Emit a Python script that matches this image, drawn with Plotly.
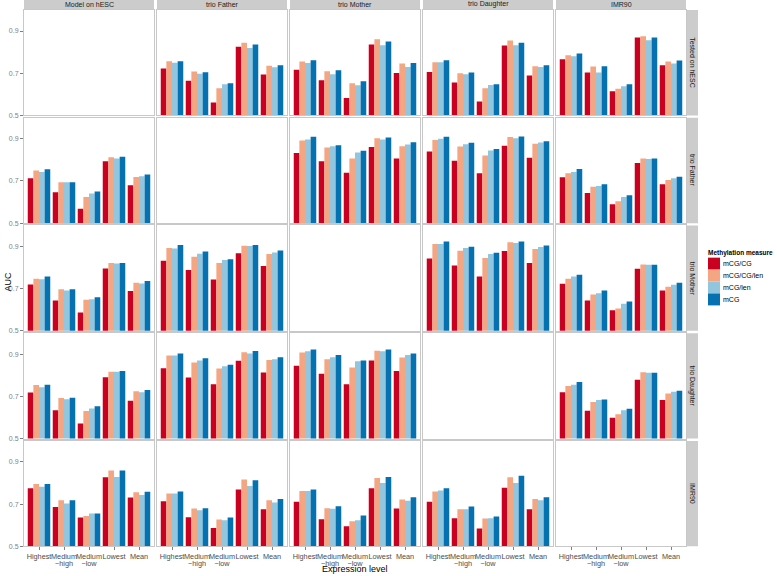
import plotly.graph_objects as go

# ---------------- data ----------------
categories = ["Highest", "Medium\u2212high", "Medium\u2212low", "Lowest", "Mean"]
tick_line1 = ["Highest", "Medium", "Medium", "Lowest", "Mean"]
tick_line2 = ["", "\u2212high", "\u2212low", "", ""]
models = ["Model on hESC", "trio Father", "trio Mother", "trio Daughter", "IMR90"]
tests = ["Tested on hESC", "trio Father", "trio Mother", "trio Daughter", "IMR90"]
measures = ["mCG/CG", "mCG/CG/len", "mCG/len", "mCG"]
colors = ["#CA0020", "#F4A582", "#92C5DE", "#0571B0"]

# Each list: values for the non-diagonal model columns (in model order), 5 expression levels each
hesc_mCG_CG = [[0.722, 0.664, 0.561, 0.826, 0.694], [0.717, 0.667, 0.583, 0.836, 0.701],
               [0.706, 0.656, 0.566, 0.831, 0.689], [0.766, 0.703, 0.615, 0.869, 0.738]]
hesc_mCG_CG_len = [[0.757, 0.708, 0.629, 0.844, 0.735], [0.755, 0.709, 0.653, 0.861, 0.746],
                   [0.752, 0.700, 0.629, 0.855, 0.733], [0.785, 0.732, 0.626, 0.875, 0.755]]
hesc_mCG_len = [[0.750, 0.697, 0.648, 0.819, 0.728], [0.749, 0.695, 0.643, 0.833, 0.730],
                [0.752, 0.695, 0.644, 0.833, 0.730], [0.781, 0.703, 0.638, 0.856, 0.746]]
hesc_mCG = [[0.757, 0.705, 0.653, 0.836, 0.738], [0.762, 0.714, 0.662, 0.850, 0.749],
            [0.762, 0.703, 0.648, 0.845, 0.738], [0.793, 0.733, 0.648, 0.869, 0.760]]

father_mCG_CG = [[0.713, 0.646, 0.568, 0.793, 0.680], [0.832, 0.793, 0.739, 0.861, 0.806],
                 [0.840, 0.796, 0.737, 0.867, 0.810], [0.717, 0.643, 0.590, 0.785, 0.684]]
father_mCG_CG_len = [[0.749, 0.694, 0.624, 0.812, 0.719], [0.892, 0.859, 0.807, 0.902, 0.865],
                     [0.894, 0.863, 0.821, 0.908, 0.876], [0.736, 0.673, 0.604, 0.807, 0.705]]
father_mCG_len = [[0.743, 0.694, 0.640, 0.807, 0.722], [0.897, 0.864, 0.835, 0.897, 0.873],
                  [0.900, 0.874, 0.844, 0.902, 0.882], [0.743, 0.676, 0.624, 0.804, 0.713]]
father_mCG = [[0.755, 0.694, 0.650, 0.815, 0.730], [0.909, 0.869, 0.843, 0.906, 0.883],
              [0.909, 0.881, 0.852, 0.911, 0.888], [0.757, 0.684, 0.632, 0.807, 0.720]]

mother_mCG_CG = [[0.720, 0.644, 0.587, 0.796, 0.689], [0.833, 0.789, 0.744, 0.868, 0.808],
                 [0.843, 0.810, 0.758, 0.879, 0.822], [0.724, 0.644, 0.598, 0.794, 0.691]]
mother_mCG_CG_len = [[0.747, 0.697, 0.648, 0.822, 0.728], [0.893, 0.852, 0.822, 0.904, 0.864],
                     [0.912, 0.880, 0.846, 0.920, 0.888], [0.747, 0.673, 0.606, 0.815, 0.709]]
mother_mCG_len = [[0.745, 0.691, 0.650, 0.819, 0.725], [0.891, 0.866, 0.836, 0.902, 0.872],
                  [0.912, 0.893, 0.865, 0.917, 0.898], [0.758, 0.678, 0.629, 0.813, 0.719]]
mother_mCG = [[0.758, 0.697, 0.659, 0.822, 0.736], [0.907, 0.876, 0.840, 0.907, 0.881],
              [0.924, 0.899, 0.871, 0.924, 0.905], [0.766, 0.691, 0.639, 0.813, 0.728]]

daughter_mCG_CG = [[0.719, 0.635, 0.572, 0.791, 0.680], [0.834, 0.790, 0.758, 0.869, 0.813],
                   [0.845, 0.807, 0.758, 0.870, 0.821], [0.720, 0.632, 0.599, 0.779, 0.683]]
daughter_mCG_CG_len = [[0.754, 0.692, 0.631, 0.817, 0.725], [0.894, 0.861, 0.832, 0.909, 0.873],
                       [0.908, 0.876, 0.837, 0.917, 0.884], [0.749, 0.673, 0.615, 0.815, 0.714]]
daughter_mCG_len = [[0.743, 0.687, 0.643, 0.817, 0.720], [0.894, 0.870, 0.843, 0.903, 0.876],
                    [0.914, 0.886, 0.867, 0.914, 0.897], [0.755, 0.683, 0.635, 0.812, 0.722]]
daughter_mCG = [[0.755, 0.694, 0.653, 0.820, 0.731], [0.903, 0.881, 0.850, 0.916, 0.886],
                [0.922, 0.897, 0.870, 0.922, 0.903], [0.768, 0.686, 0.642, 0.812, 0.727]]

imr90_mCG_CG = [[0.775, 0.686, 0.637, 0.827, 0.732], [0.714, 0.638, 0.587, 0.770, 0.676],
                [0.711, 0.629, 0.595, 0.776, 0.679], [0.711, 0.633, 0.584, 0.778, 0.676]]
imr90_mCG_CG_len = [[0.795, 0.719, 0.644, 0.860, 0.756], [0.751, 0.679, 0.627, 0.817, 0.719],
                    [0.762, 0.681, 0.619, 0.824, 0.722], [0.760, 0.676, 0.632, 0.827, 0.724]]
imr90_mCG_len = [[0.783, 0.703, 0.656, 0.829, 0.743], [0.751, 0.671, 0.624, 0.786, 0.708],
                 [0.762, 0.678, 0.624, 0.800, 0.716], [0.765, 0.676, 0.633, 0.800, 0.719]]
imr90_mCG = [[0.795, 0.719, 0.656, 0.860, 0.759], [0.760, 0.681, 0.637, 0.813, 0.724],
             [0.770, 0.690, 0.646, 0.829, 0.733], [0.776, 0.689, 0.641, 0.835, 0.733]]

rows_data = [
    [hesc_mCG_CG, hesc_mCG_CG_len, hesc_mCG_len, hesc_mCG],
    [father_mCG_CG, father_mCG_CG_len, father_mCG_len, father_mCG],
    [mother_mCG_CG, mother_mCG_CG_len, mother_mCG_len, mother_mCG],
    [daughter_mCG_CG, daughter_mCG_CG_len, daughter_mCG_len, daughter_mCG],
    [imr90_mCG_CG, imr90_mCG_CG_len, imr90_mCG_len, imr90_mCG],
]

# ---------------- layout geometry ----------------
W, H = 777, 576
col_left, col_w, col_step = 24, 130, 133
row_top, row_h, row_step = 10, 106, 108.3
strip_h = 10
strip_w = 11

def px_x(v):
    return v / W

def px_y(v):
    return 1 - v / H

fig = go.Figure()
layout = {}
shapes = []
annotations = []
border = "#C8C8C8"
tickgrey = "#7F7F7F"
font_family = "Liberation Sans, Arial, sans-serif"
xtick_font = dict(size=7.3, color="#4D4D4D", family=font_family)

for r in range(5):
    for c in range(5):
        idx = r * 5 + c + 1
        xa = "x" if idx == 1 else f"x{idx}"
        ya = "y" if idx == 1 else f"y{idx}"
        x0 = col_left + c * col_step
        y0 = row_top + r * row_step
        xdom = [px_x(x0), px_x(x0 + col_w)]
        ydom = [px_y(y0 + row_h), px_y(y0)]
        xkey = "xaxis" if idx == 1 else f"xaxis{idx}"
        ykey = "yaxis" if idx == 1 else f"yaxis{idx}"
        bottom = (r == 4)
        left = (c == 0)
        layout[xkey] = dict(
            domain=xdom, anchor=ya, type="category", range=[-0.6, 4.6],
            showline=True, mirror=True, linecolor=border, linewidth=1,
            showgrid=False, zeroline=False,
            tickmode="array", tickvals=categories, ticktext=tick_line1,
            showticklabels=bottom, ticks="outside" if bottom else "",
            ticklen=3, tickcolor=tickgrey, tickangle=0,
            tickfont=xtick_font,
            categoryorder="array", categoryarray=categories,
        )
        layout[ykey] = dict(
            domain=ydom, anchor=xa, range=[0.5, 1.0],
            showline=True, mirror=True, linecolor=border, linewidth=1,
            showgrid=False, zeroline=False,
            tickvals=[0.5, 0.7, 0.9], ticktext=["0.5", "0.7", "0.9"],
            showticklabels=left, ticks="outside" if left else "",
            ticklen=3, tickcolor=tickgrey,
            tickfont=dict(size=7, color=tickgrey, family=font_family),
        )
        if r != c:
            mi = c if c < r else c - 1
            for k, meas in enumerate(measures):
                fig.add_trace(go.Bar(
                    x=categories, y=rows_data[r][k][mi], xaxis=xa, yaxis=ya,
                    name=meas, marker=dict(color=colors[k], line=dict(width=0)),
                    showlegend=False,
                ))
        else:
            fig.add_trace(go.Bar(x=categories, y=[None] * 5, xaxis=xa, yaxis=ya,
                                 showlegend=False, hoverinfo="skip"))

# second line of the bottom-row tick labels (overlay axes)
for c in range(5):
    base = 20 + c + 1
    oidx = 25 + c + 1
    x0 = col_left + c * col_step
    layout[f"xaxis{oidx}"] = dict(
        domain=[px_x(x0), px_x(x0 + col_w)], anchor=f"y{base}", overlaying=f"x{base}",
        type="category", range=[-0.6, 4.6], side="bottom",
        categoryorder="array", categoryarray=categories,
        tickmode="array", tickvals=categories, ticktext=tick_line2,
        showline=False, showgrid=False, zeroline=False,
        ticks="outside", ticklen=10, tickcolor="rgba(0,0,0,0)", tickangle=0,
        tickfont=xtick_font,
    )
    fig.add_trace(go.Bar(x=categories, y=[None] * 5, xaxis=f"x{oidx}", yaxis=f"y{base}",
                         showlegend=False, hoverinfo="skip"))

# column strips
for c in range(5):
    x0 = col_left + c * col_step
    shapes.append(dict(type="rect", xref="paper", yref="paper",
                       x0=px_x(x0), x1=px_x(x0 + col_w),
                       y0=px_y(row_top - 0.5), y1=px_y(row_top - 0.5 - strip_h),
                       fillcolor="#CCCCCC", line=dict(width=0), layer="below"))
    annotations.append(dict(text=models[c], xref="paper", yref="paper",
                            x=px_x(x0 + col_w / 2), y=px_y(row_top - 0.5 - strip_h / 2),
                            showarrow=False, xanchor="center", yanchor="middle",
                            font=dict(size=7, color="#1A1A1A", family=font_family)))
# row strips
sx0 = col_left + 4 * col_step + col_w + 1
for r in range(5):
    y0 = row_top + r * row_step
    shapes.append(dict(type="rect", xref="paper", yref="paper",
                       x0=px_x(sx0), x1=px_x(sx0 + strip_w),
                       y0=px_y(y0), y1=px_y(y0 + row_h),
                       fillcolor="#CCCCCC", line=dict(width=0), layer="below"))
    annotations.append(dict(text=tests[r], xref="paper", yref="paper",
                            x=px_x(sx0 + strip_w / 2), y=px_y(y0 + row_h / 2),
                            showarrow=False, xanchor="center", yanchor="middle",
                            textangle=90,
                            font=dict(size=7, color="#1A1A1A", family=font_family)))

# axis titles
annotations.append(dict(text="AUC", xref="paper", yref="paper",
                        x=px_x(8), y=px_y(283), showarrow=False, textangle=-90,
                        xanchor="center", yanchor="middle",
                        font=dict(size=9, color="#000000", family=font_family)))
annotations.append(dict(text="Expression level", xref="paper", yref="paper",
                        x=px_x(355), y=px_y(571.5), showarrow=False,
                        xanchor="center", yanchor="middle",
                        font=dict(size=9, color="#000000", family=font_family)))

# legend (compact, ggplot-like)
leg_x, leg_title_y, key_top, key_size = 708, 254, 259, 12
annotations.append(dict(text="<b>Methylation measure</b>", xref="paper", yref="paper",
                        x=px_x(leg_x - 2), y=px_y(leg_title_y), showarrow=False,
                        xanchor="left", yanchor="middle",
                        font=dict(size=6.5, color="#000000", family=font_family)))
for k, meas in enumerate(measures):
    ky = key_top + k * key_size
    shapes.append(dict(type="rect", xref="paper", yref="paper",
                       x0=px_x(leg_x), x1=px_x(leg_x + key_size),
                       y0=px_y(ky), y1=px_y(ky + key_size),
                       fillcolor=colors[k], line=dict(width=0)))
    annotations.append(dict(text=meas, xref="paper", yref="paper",
                            x=px_x(leg_x + key_size + 1), y=px_y(ky + key_size / 2),
                            showarrow=False, xanchor="left", yanchor="middle",
                            font=dict(size=7, color="#000000", family=font_family)))

layout.update(dict(
    width=W, height=H, margin=dict(l=0, r=0, t=0, b=0),
    paper_bgcolor="white", plot_bgcolor="white",
    barmode="group", bargap=0.1, bargroupgap=0,
    shapes=shapes, annotations=annotations,
    showlegend=False,
    font=dict(family=font_family),
))
fig.update_layout(**layout)
fig.write_html("out.html", config={"displayModeBar": False},
               post_script="document.body.style.margin='0px';document.body.style.overflow='hidden';")
